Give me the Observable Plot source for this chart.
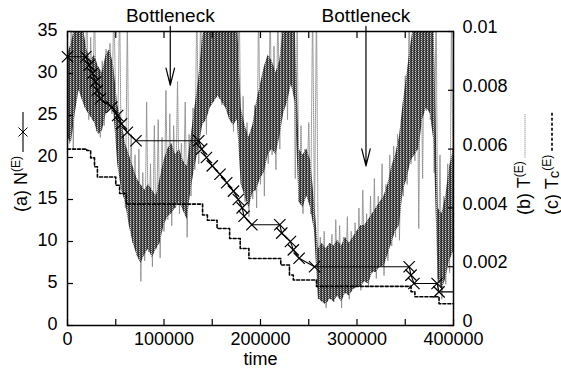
<!DOCTYPE html>
<html><head><meta charset="utf-8">
<script src="https://cdn.jsdelivr.net/npm/d3@7"></script>
<script src="https://cdn.jsdelivr.net/npm/@observablehq/plot@0.6"></script>
<style>
body{margin:0;background:#fff;}
#chart svg{font-family:"Liberation Sans",Arial,Helvetica,sans-serif;}
</style></head><body>
<svg width="0" height="0" style="position:absolute">
  <defs>
    <pattern id="tstip" patternUnits="userSpaceOnUse" width="3" height="2">
      <rect x="0" y="0" width="3" height="2" fill="#ccc"/>
      <rect x="0" y="0" width="1" height="1" fill="#222"/>
      <rect x="0" y="1" width="1" height="1" fill="#444"/>
      <rect x="1" y="0" width="1" height="1" fill="#555"/>
      <rect x="2" y="1" width="1" height="1" fill="#333"/>
      <rect x="2" y="0" width="1" height="1" fill="#777"/>
    </pattern>
  </defs>
</svg>
<div id="chart"></div>
<script>
// (a) N^(E): number of elements, read at each marker
const nTime  = [0, 19000, 22500, 26000, 29000, 31000, 34000, 46000, 52000, 56000, 62000, 71000,
                136000, 139000, 144000, 150000, 158000, 165000, 172000, 177000, 181000, 183000, 191000,
                220000, 222000, 231000, 234000, 240000, 256000, 354000, 356000, 359000, 383000, 385000, 400000];
const nCount = [32, 32, 31, 30, 29, 28, 27, 26, 25, 24, 23, 22,
                22, 21, 20, 19, 18, 17, 16, 15, 14, 13, 12,
                12, 11, 10, 9, 8, 7, 7, 6, 5, 5, 4, 4];

// (c) Tc^(E): staircase (value holds until next time)
const tcTime  = [0, 20000, 24000, 28000, 31000, 50000, 54000, 61000, 140000, 145000, 155000, 168000,
                 179000, 188000, 221000, 230000, 234000, 258000, 356000, 360000, 385000, 400000];
const tcValue = [0.0060, 0.00595, 0.0057, 0.0054, 0.00505, 0.00477, 0.00449, 0.00413, 0.00376, 0.00358, 0.0033, 0.00296,
                 0.00262, 0.00228, 0.00206, 0.00172, 0.00155, 0.00133, 0.00115, 0.00098, 0.00074, 0.00074];

// (b) T^(E): fluctuating temperature, sampled every 2000 time units, in units of 1e-3
const tempStep = 2000;
const tempMilli = [
  9.5, 6.2, 11, 6.0, 10.5, 8.2, 11, 8.0, 10.8, 7.4,
  11, 7.0, 9.8, 7.2, 11, 6.6, 8.8, 6.4, 9.0, 6.8,
  9.4, 7.4, 9.6, 7.2, 11, 7.5, 6.5, 11, 4.8, 6.5,
  4.0, 10.5, 3.6, 6.5, 2.8, 5.8, 2.4, 6.0, 1.5, 5.2,
  2.2, 7.6, 2.5, 5.5, 2.0, 6.8, 2.6, 7.0, 2.3, 6.4,
  3.2, 8.0, 3.6, 7.2, 3.4, 6.8, 4.0, 8.3, 3.8, 6.2,
  4.2, 7.6, 3.0, 6.5, 4.4, 7.4, 5.3, 11, 5.5, 11,
  7.0, 10.5, 6.5, 11, 7.5, 10.8, 7.8, 11, 8.0, 10.5,
  7.5, 11, 8.2, 10.2, 7.0, 11, 6.6, 10.8, 7.2, 11,
  4.8, 7.8, 4.2, 6.9, 3.7, 6.5, 4.3, 7.5, 4.0, 11,
  4.8, 8.6, 4.4, 9.0, 5.5, 11, 5.8, 9.5, 5.3, 11,
  6.0, 11, 7.5, 10.5, 7.0, 11, 8.5, 11, 5.0, 10.0,
  4.2, 6.8, 3.8, 6.0, 4.5, 6.9, 3.8, 11, 3.5, 11,
  1.2, 3.0, 0.8, 3.2, 0.6, 2.6, 0.9, 3.1, 0.8, 3.6,
  1.0, 3.4, 0.6, 3.0, 1.1, 3.7, 0.9, 3.2, 1.3, 3.5,
  1.4, 4.0, 1.2, 4.6, 1.6, 3.8, 1.3, 4.4, 1.8, 5.0,
  1.6, 4.4, 2.0, 5.5, 1.7, 4.8, 2.2, 5.8, 2.7, 6.1,
  3.0, 6.5, 2.9, 7.0, 4.4, 8.5, 4.8, 11, 5.5, 11,
  5.6, 11, 3.3, 10.5, 5.0, 11, 7.3, 11, 7.0, 10.5,
  5.2, 11, 1.2, 5.8, 0.9, 4.4, 1.4, 5.5, 1.8, 11,
  2.5
];
// dense core of the T^(E) fluctuations, every 4000 time units, in units of 1e-3
const coreStep = 4000;
const coreLoMilli = [
  6.4, 6.2, 7.2, 8.0, 7.6, 7.3, 7.1, 6.9, 6.5, 6.6,
  7.2, 7.4, 7.3, 5.5, 4.6, 4.2, 3.4, 2.8, 2.4, 2.1,
  2.4, 2.6, 2.3, 2.6, 2.8, 3.4, 3.7, 3.8, 4.0, 4.2,
  3.9, 3.6, 4.6, 5.4, 6.0, 6.8, 7.0, 7.4, 7.6, 7.8,
  7.6, 7.4, 7.0, 6.8, 7.0, 4.8, 4.4, 4.0, 4.5, 4.6,
  5.0, 5.2, 5.8, 6.0, 5.8, 6.4, 7.2, 7.6, 8.2, 7.6,
  4.2, 4.0, 4.4, 4.0, 3.2, 0.9, 0.8, 0.7, 0.9, 0.8,
  1.0, 0.8, 1.1, 1.0, 1.2, 1.3, 1.3, 1.5, 1.4, 1.8,
  1.8, 2.0, 2.0, 2.4, 2.8, 3.2, 3.4, 4.6, 5.0, 5.6,
  5.8, 6.0, 7.0, 7.4, 7.2, 6.2, 1.6, 1.2, 1.6, 2.2,
  2.5
];
const coreHiMilli = [
  9.2, 9.6, 10.2, 10.5, 10.2, 9.4, 9.0, 9.2, 8.8, 8.6,
  9.2, 9.4, 8.8, 7.5, 7.0, 6.2, 5.8, 5.4, 5.0, 4.8,
  4.6, 4.8, 4.6, 4.4, 5.0, 5.6, 6.0, 6.2, 5.8, 6.0,
  5.6, 5.4, 6.4, 7.4, 8.4, 9.8, 10.5, 10.5, 10.5, 10.5,
  10.5, 10.5, 10.2, 10.0, 10.5, 7.4, 6.8, 6.4, 6.8, 7.6,
  8.2, 8.8, 9.2, 9.0, 8.6, 9.0, 10.2, 10.5, 10.5, 10.2,
  6.0, 5.8, 6.0, 5.6, 4.2, 2.6, 2.8, 2.6, 2.8, 2.7,
  2.9, 2.7, 3.0, 2.8, 3.0, 3.2, 3.4, 3.4, 3.6, 3.8,
  4.0, 4.2, 4.4, 4.8, 5.4, 5.8, 6.4, 7.6, 8.6, 9.6,
  10.5, 10.5, 10.5, 10.5, 10.5, 10.0, 4.0, 3.8, 4.4, 5.4,
  6.0
];

// axes
const xTickLabels = [0, 100000, 200000, 300000, 400000];
const xTickMarks  = [0, 50000, 100000, 150000, 200000, 250000, 300000, 350000, 400000];
const leftTicks   = [0, 5, 10, 15, 20, 25, 30, 35];
const rightTicks  = [0, 0.002, 0.004, 0.006, 0.008, 0.01];

// annotations
const bottleneckTime = [106500, 309300];
const bottleneckTip  = [28.6, 19.0];
const bottleneckText = ["Bottleneck", "Bottleneck"];

const nMax = 35, tMax = 0.01, k = nMax / tMax;

const nData = nTime.map((t, i) => ({t, N: nCount[i]}));
const tcData = tcTime.map((t, i) => ({t, Tc: tcValue[i]}));
const tempData = tempMilli.map((v, i) => ({t: i * tempStep, T: v / 1000}));
const coreData = coreLoMilli.map((v, i) => ({t: i * coreStep, lo: v / 1000, hi: coreHiMilli[i] / 1000}));
const notes = bottleneckTime.map((t, i) => ({t, tip: bottleneckTip[i], label: bottleneckText[i]}));

const font = "Liberation Sans, Arial, Helvetica, sans-serif";

const plot = Plot.plot({
  width: 561, height: 370,
  marginLeft: 67, marginRight: 108, marginTop: 31, marginBottom: 45,
  style: {fontFamily: font, fontSize: "18px", color: "black", background: "white", overflow: "visible"},
  x: {domain: [0, 400000], axis: null, label: null},
  y: {domain: [0, nMax], axis: null, label: null},
  marks: [
    Plot.line(tempData, {x: "t", y: d => d.T * k, stroke: "#888", strokeWidth: 0.9, strokeDasharray: "1,1", clip: true}),
    Plot.areaY(coreData, {x: "t", y1: d => d.lo * k, y2: d => d.hi * k, fill: "url(#tstip)", clip: true}),
    Plot.line(tcData, {x: "t", y: d => d.Tc * k, curve: "step-after", stroke: "black", strokeWidth: 1.6, strokeDasharray: "3,2"}),
    Plot.line(nData, {x: "t", y: "N", stroke: "black", strokeWidth: 1.1}),
    Plot.dot(nData.filter(d => d.t < 400000), {x: "t", y: "N", symbol: "times", r: 5.2, stroke: "black", strokeWidth: 1.2}),
    Plot.frame({stroke: "black", strokeWidth: 1.5}),
    // inward ticks
    Plot.axisX(xTickMarks, {anchor: "bottom", tickSize: -6, tickFormat: () => "", label: null, strokeWidth: 1.2}),
    Plot.axisX(xTickMarks, {anchor: "top", tickSize: -6, tickFormat: () => "", label: null, strokeWidth: 1.2}),
    Plot.axisY(leftTicks, {anchor: "left", tickSize: -6, tickFormat: () => "", label: null, strokeWidth: 1.2}),
    Plot.axisY(rightTicks.map(v => v * k), {anchor: "right", tickSize: -6, tickFormat: () => "", label: null, strokeWidth: 1.2}),
    // tick labels
    Plot.axisX(xTickLabels, {anchor: "bottom", tickSize: 0, tickPadding: 7, label: null, fontSize: 18, tickFormat: d => String(d)}),
    Plot.axisY(leftTicks, {anchor: "left", tickSize: 0, tickPadding: 10, label: null, fontSize: 18, dy: -1}),
    Plot.axisY(rightTicks.map(v => v * k), {anchor: "right", tickSize: 0, tickPadding: 9, label: null, fontSize: 18, dy: -4,
      tickFormat: d => String(+(d / k).toFixed(3))}),
    Plot.text(["time"], {frameAnchor: "bottom", dy: 39, lineAnchor: "bottom", fontSize: 18}),
    // bottleneck annotations
    Plot.arrow(notes, {x1: "t", x2: "t", y1: 35.6, y2: "tip", stroke: "black", strokeWidth: 1.2, headAngle: 28, headLength: 22}),
    Plot.text(notes, {x: "t", y: 36.1, text: "label", lineAnchor: "bottom", fontSize: 19})
  ]
});

document.getElementById("chart").appendChild(plot);

// rotated axis titles with legend samples
const svg = d3.select(plot);
function title(tx, ty, parts, drawSample) {
  const g = svg.append("g").attr("transform", `translate(${tx},${ty}) rotate(-90)`)
    .attr("font-family", font).attr("font-size", 18).attr("fill", "black").attr("text-anchor", "start");
  const t = g.append("text").attr("x", 0).attr("y", 0);
  parts.forEach(p => {
    const s = t.append("tspan").text(p.text);
    if (p.size) s.attr("font-size", p.size);
    if (p.dy) s.attr("dy", p.dy);
  });
  const len = t.node().getComputedTextLength();
  drawSample(g, len + 4);
}
title(27, 212, [{text: "(a) N"}, {text: "(E)", size: 12, dy: -7}], (g, x0) => {
  const x1 = x0 + 40, y = -4;
  g.append("line").attr("x1", x0).attr("x2", x1).attr("y1", y).attr("y2", y).attr("stroke", "black").attr("stroke-width", 1.1);
  const m = (x0 + x1) / 2, r = 4.5;
  g.append("path").attr("d", `M${m - r},${y - r}L${m + r},${y + r}M${m - r},${y + r}L${m + r},${y - r}`).attr("stroke", "black").attr("stroke-width", 1);
});
title(530, 215, [{text: "(b) T"}, {text: "(E)", size: 12, dy: -7}], (g, x0) => {
  g.append("line").attr("x1", x0).attr("x2", x0 + 44).attr("y1", -5).attr("y2", -5)
    .attr("stroke", "#777").attr("stroke-width", 1).attr("stroke-dasharray", "1,1");
});
title(558, 215, [{text: "(c) T"}, {text: "c", size: 15, dy: 1}, {text: "(E)", size: 12, dy: -8}], (g, x0) => {
  g.append("line").attr("x1", x0).attr("x2", x0 + 38).attr("y1", -6).attr("y2", -6)
    .attr("stroke", "black").attr("stroke-width", 1.6).attr("stroke-dasharray", "3,2");
});
</script>
</body></html>
